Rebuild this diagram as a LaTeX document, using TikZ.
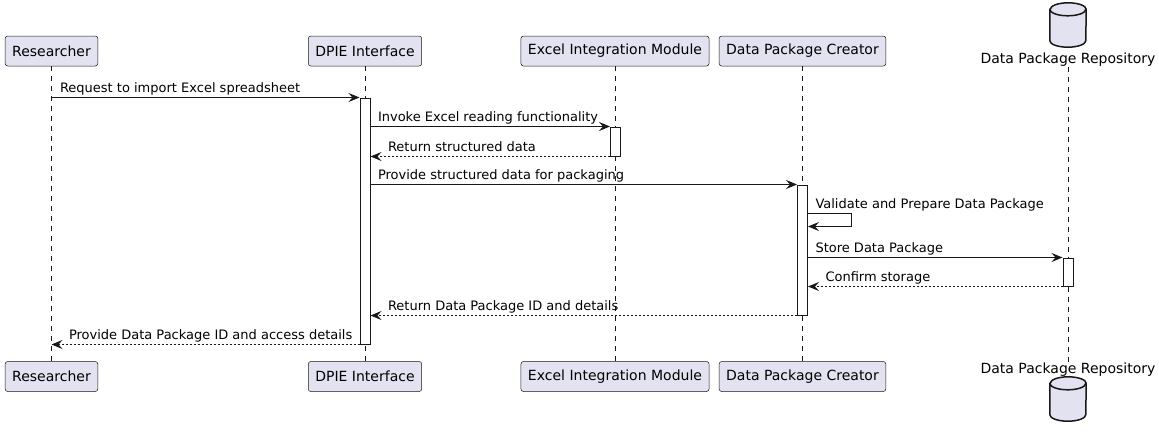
\documentclass[tikz,border=0pt]{standalone}
\usepackage{fontspec}
\setmainfont{DejaVu Sans}
\usepackage{tikz}
\usetikzlibrary{arrows.meta,positioning,calc}
\definecolor{boxfill}{HTML}{E2E2F0}
\definecolor{ink}{HTML}{181818}
\tikzstyle{part}=[rectangle,draw=ink,line width=0.5pt,fill=boxfill,rounded corners=2.5pt,minimum height=30pt,inner xsep=7pt,font=\fontsize{14}{16}\selectfont]
\tikzstyle{act}=[rectangle,draw=ink,line width=1pt,fill=white,minimum width=10pt,inner sep=0pt]
\tikzset{
	life/.style={draw=ink,line width=0.5pt,dash pattern=on 5pt off 5pt},
	msg/.style={draw=ink,line width=1pt,-{Stealth[length=11pt,width=9pt,inset=4pt]}},
	ret/.style={msg,dash pattern=on 2pt off 2pt},
	lbl/.style={anchor=base west,yshift=5pt,inner sep=0pt},
	dbname/.style={anchor=base,inner sep=0pt,font=\fontsize{14}{16}\selectfont},
	dbshape/.style={draw=ink,line width=1.5pt,fill=boxfill},
	dbbox/.style={minimum width=36pt,minimum height=44pt,inner sep=0pt}
}

\begin{document}
\begin{tikzpicture}[x=1pt,y=-1pt,font=\fontsize{13}{15}\selectfont]
	\useasboundingbox (0,0) rectangle (1159,439);
	% participants, top and bottom
	\node (p1) [part] at (51.5,51) {Researcher};
	\node (p2) [part] at (365,51) {DPIE Interface};
	\node (p3) [part] at (615,51) {Excel Integration Module};
	\node (p4) [part] at (802.5,51) {Data Package Creator};
	\node (db1) [dbbox] at (1068,25) {};
	\node (p5) [dbname] at (1068,63.5) {Data Package Repository};
	\node (q1) [part] at (51.5,376.5) {Researcher};
	\node (q2) [part] at (365,376.5) {DPIE Interface};
	\node (q3) [part] at (615,376.5) {Excel Integration Module};
	\node (q4) [part] at (802.5,376.5) {Data Package Creator};
	\node (q5) [dbname] at (1068,373) {Data Package Repository};
	\node (db2) [dbbox] at (1068,399) {};
	\foreach \d in {db1,db2}{
		\draw[dbshape] ([yshift=-6.5pt]\d.north west) -- ([yshift=6.5pt]\d.south west) arc[start angle=180,end angle=360,x radius=18pt,y radius=6.5pt] -- ([yshift=-6.5pt]\d.north east) arc[start angle=0,end angle=180,x radius=18pt,y radius=6.5pt] -- cycle;
		\draw[draw=ink,line width=1.5pt] ([yshift=-6.5pt]\d.north west) arc[start angle=180,end angle=360,x radius=18pt,y radius=6.5pt];
	}
	% lifelines
	\draw[life] (p1.south) -- (q1.north);
	\draw[life] (p2.south) -- (q2.north);
	\draw[life] (p3.south) -- (q3.north);
	\draw[life] (p4.south) -- (q4.north);
	\draw[life] (p5.south) -- (q5.north);
	% activations
	\node (a2) [act,minimum height=246pt] at (365,221) {};
	\node (a3) [act,minimum height=29pt] at (615.5,141.5) {};
	\node (a4) [act,minimum height=130pt] at (802.5,250) {};
	\node (a5) [act,minimum height=28pt] at (1068,272) {};
	% messages
	\draw[msg] (p1.south |- a2.north) -- (a2.north west) node[lbl,pos=0,xshift=8pt] {Request to import Excel spreadsheet};
	\draw[msg] (a2.east |- a3.north) -- (a3.north west) node[lbl,pos=0,xshift=7pt] {Invoke Excel reading functionality};
	\draw[ret] (a3.south west) -- (a2.east |- a3.south) node[lbl,pos=1,xshift=17pt] {Return structured data};
	\draw[msg] (a2.east |- a4.north) -- (a4.north west) node[lbl,pos=0,xshift=7pt] {Provide structured data for packaging};
	\draw[msg] ([yshift=-29pt]a4.north east) node[lbl,xshift=7pt] {Validate and Prepare Data Package} -- ++(43,0) -- ++(0,13) -- ([yshift=-42pt]a4.north east);
	\draw[msg] (a4.east |- a5.north) -- (a5.north west) node[lbl,pos=0,xshift=7pt] {Store Data Package};
	\draw[ret] (a5.south west) -- (a4.east |- a5.south) node[lbl,pos=1,xshift=17pt] {Confirm storage};
	\draw[ret] (a4.south west) -- (a2.east |- a4.south) node[lbl,pos=1,xshift=17pt] {Return Data Package ID and details};
	\draw[ret] (a2.south west) -- (p1.south |- a2.south) node[lbl,pos=1,xshift=17pt] {Provide Data Package ID and access details};
\end{tikzpicture}
\end{document}
